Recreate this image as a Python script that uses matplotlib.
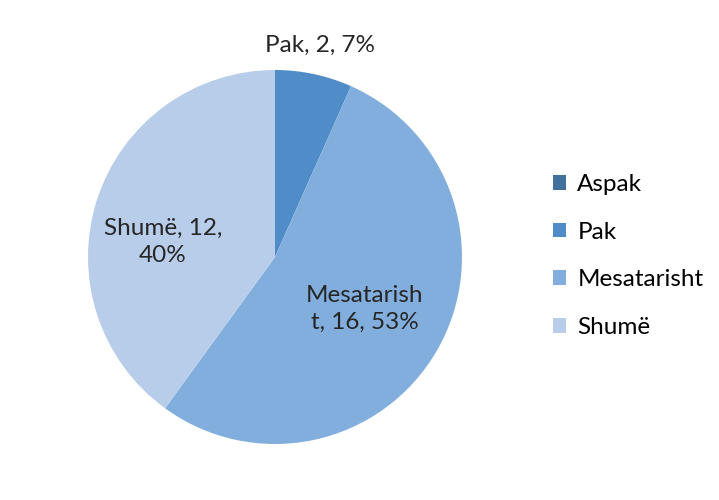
import matplotlib.pyplot as plt

categories = ['Aspak', 'Pak', 'Mesatarisht', 'Shumë']
values = [0, 2, 16, 12]
percents = ['0%', '7%', '53%', '40%']
colors = ['#41719c', '#508dc8', '#82aedd', '#b8cde9']

plt.rcParams['font.family'] = ['Lato', 'DejaVu Sans']

fig = plt.figure(figsize=(7.19, 5), dpi=100)
cx, cy, r = 275, 257, 187
ax = fig.add_axes([(cx - r) / 719, (500 - cy - r) / 500, 2 * r / 719, 2 * r / 500])

wedges, _ = ax.pie(values, colors=colors, startangle=90, counterclock=False,
                   radius=1, wedgeprops=dict(linewidth=0))
ax.set_xlim(-1, 1)
ax.set_ylim(-1, 1)
ax.set_aspect('equal')
ax.axis('off')

def px(x, y):
    return (x - cx) / r, (cy - y) / r

label_pos = {1: (320, 45), 2: (365, 309), 3: (163, 242)}
label_text = {1: 'Pak, 2, 7%', 2: 'Mesatarish\nt, 16, 53%', 3: 'Shumë, 12,\n40%'}
for i, (x, y) in label_pos.items():
    tx, ty = px(x, y)
    ax.text(tx, ty, label_text[i], ha='center', va='center', fontsize=17.5,
            color='#262626', linespacing=1.35, clip_on=False)

fig.legend(wedges, categories, loc='center left', bbox_to_anchor=(553 / 719, 1 - 256 / 500),
           frameon=False, fontsize=17.5, handlelength=0.55, handleheight=0.55,
           handletextpad=0.45, labelspacing=1.1, borderpad=0, borderaxespad=0)

fig.savefig('out.png', dpi=100)
